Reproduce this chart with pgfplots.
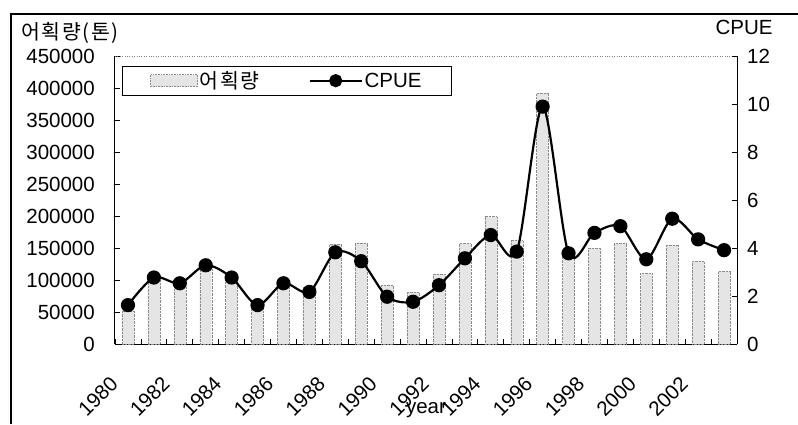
\documentclass[border=0pt]{standalone}
\usepackage{fontspec}
\setmainfont{Liberation Sans}
\newfontfamily\kr[LetterSpace=8]{Noto Sans CJK KR}
\usepackage{pgfplots}
\pgfplotsset{compat=1.18}
\newcommand{\fs}{\fontsize{20.5}{24}\selectfont}

\begin{document}
\begin{tikzpicture}
\useasboundingbox (0pt,0pt) rectangle (798pt,424pt);
\draw[line width=1.5pt] (11pt,0pt) -- (11pt,410pt) -- (798pt,410pt);

% catch (bars), left axis
\begin{axis}[
    at={(115pt,80pt)}, anchor=south west,
    width=622pt, height=288pt, scale only axis,
    xmin=1979.5, xmax=2003.5,
    ymin=0, ymax=450000,
    ytick={0,50000,...,450000},
    scaled y ticks=false,
    /pgf/number format/fixed,
    /pgf/number format/1000 sep={},
    /pgf/number format/assume math mode=true,
    axis x line*=bottom, axis y line*=left,
    axis line style={line width=1pt},
    tick align=inside, major tick length=5pt,
    tick style={black, line width=0.8pt},
    xtick={1979.5,1980.5,...,2003.5}, xticklabels={},
    extra x ticks={1980,1982,...,2002},
    extra x tick labels={1980,1982,1984,1986,1988,1990,1992,1994,1996,1998,2000,2002},
    extra x tick style={major tick length=0pt},
    xticklabel style={font=\fs, inner sep=0pt, xshift=-19pt, yshift=-31pt, rotate=45, anchor=north east},
    yticklabel style={font=\fs, inner sep=0pt, xshift=-20pt},
    xlabel={year}, ylabel={\kr 어획량(톤)},
    every axis x label/.style={at={(axis description cs:0.5,0)}, yshift=-66pt, anchor=center, font=\fs},
    every axis y label/.style={at={(axis description cs:0,1)}, xshift=-45pt, yshift=23pt, anchor=center, font=\fs},
]
\addplot[ybar, bar width=12pt, fill=black!10, draw=black!45, densely dotted] coordinates {
    (1980,52000) (1981,100000) (1982,90000) (1983,120000) (1984,101000) (1985,58000)
    (1986,89000) (1987,89000) (1988,156000) (1989,158000) (1990,92000) (1991,81000)
    (1992,109000) (1993,157000) (1994,199000) (1995,162000) (1996,392000) (1997,138000)
    (1998,150000) (1999,158000) (2000,110000) (2001,155000) (2002,129000) (2003,113000)
};
\draw[black!50, dotted] (rel axis cs:0,1) -- (rel axis cs:1,1);
\end{axis}

% CPUE (line), right axis
\begin{axis}[
    at={(115pt,80pt)}, anchor=south west,
    width=622pt, height=288pt, scale only axis,
    xmin=1979.5, xmax=2003.5,
    ymin=0, ymax=12, ytick={0,2,...,12},
    /pgf/number format/fixed,
    /pgf/number format/assume math mode=true,
    axis y line*=right, axis x line=none,
    axis line style={line width=1pt},
    tick align=inside, major tick length=5pt,
    tick style={black, line width=0.8pt},
    yticklabel style={font=\fs, inner sep=0pt, xshift=10pt},
    ylabel={CPUE},
    every axis y label/.style={at={(axis description cs:1,1)}, xshift=7pt, yshift=29pt, anchor=center, font=\fs},
    legend columns=2,
    legend style={at={(0.0113,0.965)}, anchor=north west, draw=black, line width=0.6pt,
        font=\fs, inner xsep=28pt, inner ysep=3pt,
        /tikz/every even column/.append style={column sep=47pt}},
]
\addlegendimage{legend image code/.code={\draw[fill=black!10, draw=black!45, densely dotted] (0pt,-6pt) rectangle (47pt,6pt);}}
\addlegendentry{\kr 어획량}
\addplot[black, line width=2.2pt, smooth, tension=0.5, mark=*, mark size=6pt,
    legend image code/.code={\draw[black, line width=1.8pt] (0pt,0pt) -- (52pt,0pt); \fill[black] (26pt,0pt) circle (5.5pt);}]
    coordinates {
    (1980,1.62) (1981,2.77) (1982,2.53) (1983,3.28) (1984,2.77) (1985,1.62)
    (1986,2.53) (1987,2.17) (1988,3.82) (1989,3.45) (1990,1.97) (1991,1.76)
    (1992,2.45) (1993,3.57) (1994,4.54) (1995,3.85) (1996,9.89) (1997,3.78)
    (1998,4.63) (1999,4.91) (2000,3.53) (2001,5.22) (2002,4.36) (2003,3.91)
};
\addlegendentry{CPUE}
\end{axis}
\end{tikzpicture}
\end{document}
